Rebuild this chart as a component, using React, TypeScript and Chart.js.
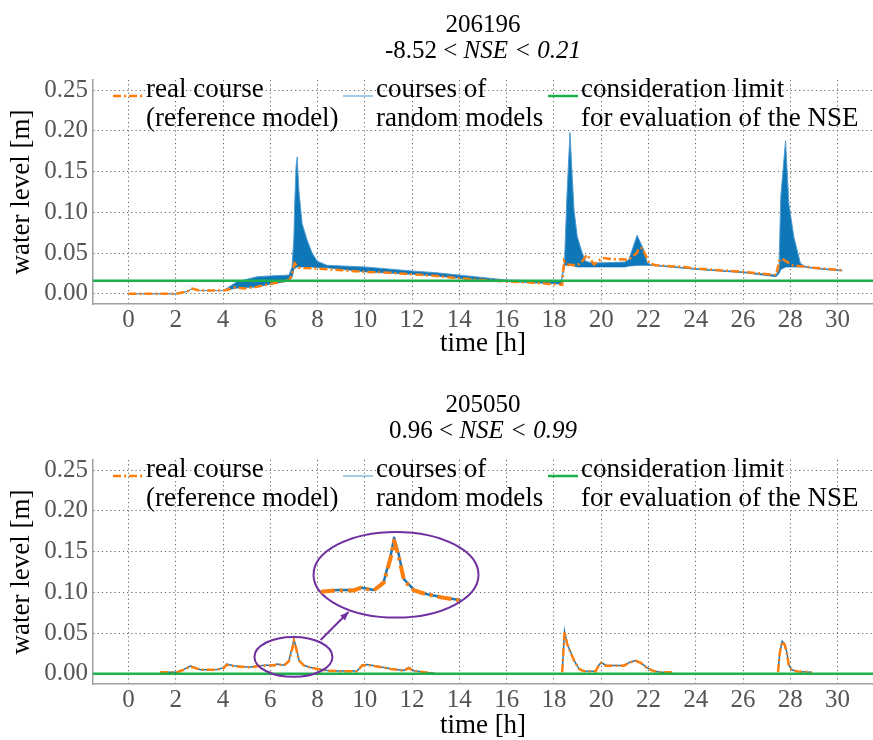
import React, { useEffect, useRef } from 'react';
import { Chart, registerables } from 'chart.js';

Chart.register(...registerables);

const FONT = '"Liberation Serif"';
Chart.defaults.font.family = FONT;

// ---------- shared axis data ----------
const xMin = -1.5;
const xMax = 31.5;
const yMin = -0.0125;
const yMax = 0.2625;
const xTicks = [0, 2, 4, 6, 8, 10, 12, 14, 16, 18, 20, 22, 24, 26, 28, 30];
const yTicks = [0, 0.05, 0.1, 0.15, 0.2, 0.25];
const yTickLabels = ['0.00', '0.05', '0.10', '0.15', '0.20', '0.25'];
const xTitle = 'time [h]';
const yTitle = 'water level [m]';
const legendLabels = [
  ['real course', '(reference model)'],
  ['courses of', 'random models'],
  ['consideration limit', 'for evaluation of the NSE'],
];

// ---------- top chart (206196) ----------
const topId = '206196';
const topNse = ['-8.52 < ', 'NSE < 0.21'];
const topLimit = 0.016;
const topRefH = [0, 2.0, 2.5, 2.7, 3.0, 4.0, 4.2, 4.5, 4.9, 5.4, 6.0, 6.5, 6.8, 6.9, 7.03, 7.2, 8.0, 9.0, 10.0, 11.0, 12.0, 13.0, 14.0, 15.0, 16.0, 17.0, 18.35, 18.43, 18.5, 19.0, 19.2, 19.4, 19.7, 20.05, 20.5, 21.17, 21.5, 21.6, 21.75, 22.03, 22.3, 23.5, 24, 26, 27.4, 27.55, 27.65, 28.1, 29, 30.2];
const topRefV = [0, 0, 0.003, 0.0065, 0.004, 0.004, 0.005, 0.008, 0.0065, 0.0085, 0.012, 0.015, 0.017, 0.022, 0.0375, 0.032, 0.031, 0.029, 0.027, 0.026, 0.024, 0.022, 0.019, 0.017, 0.015, 0.014, 0.011, 0.04, 0.036, 0.035, 0.04, 0.048, 0.036, 0.044, 0.0425, 0.042, 0.05, 0.056, 0.056, 0.0375, 0.035, 0.033, 0.031, 0.027, 0.023, 0.042, 0.043, 0.035, 0.032, 0.029];
const topRandH = [0, 2.0, 2.5, 2.7, 3.0, 4.0, 4.18, 4.6, 5.45, 6.0, 6.79, 6.92, 7.0, 7.03, 7.09, 7.14, 7.21, 7.35, 7.56, 7.77, 7.99, 8.4, 10, 12, 13, 14, 16, 18.3, 18.45, 18.55, 18.68, 18.76, 18.85, 18.99, 19.2, 19.34, 19.6, 20, 21, 21.17, 21.52, 21.8, 21.95, 22.1, 24, 26, 27.4, 27.52, 27.6, 27.8, 27.94, 28.15, 28.43, 28.6, 29, 30.2];
const topRandUpper = [0, 0, 0.003, 0.0065, 0.004, 0.004, 0.007, 0.015, 0.021, 0.022, 0.023, 0.033, 0.07, 0.107, 0.156, 0.168, 0.127, 0.086, 0.066, 0.05, 0.04, 0.035, 0.033, 0.028, 0.026, 0.023, 0.017, 0.015, 0.04, 0.12, 0.198, 0.152, 0.103, 0.07, 0.05, 0.04, 0.038, 0.038, 0.039, 0.042, 0.072, 0.054, 0.038, 0.036, 0.031, 0.027, 0.023, 0.03, 0.12, 0.188, 0.111, 0.07, 0.0375, 0.034, 0.032, 0.029];
const topRandLower = [0, 0, 0.003, 0.0065, 0.004, 0.004, 0.005, 0.007, 0.0085, 0.012, 0.0155, 0.02, 0.03, 0.031, 0.032, 0.033, 0.033, 0.033, 0.033, 0.033, 0.032, 0.032, 0.027, 0.024, 0.022, 0.019, 0.015, 0.012, 0.035, 0.035, 0.035, 0.035, 0.034, 0.033, 0.033, 0.033, 0.033, 0.033, 0.033, 0.034, 0.035, 0.035, 0.035, 0.035, 0.03, 0.026, 0.021, 0.025, 0.03, 0.033, 0.033, 0.033, 0.033, 0.033, 0.031, 0.028];

// ---------- bottom chart (205050) ----------
const botId = '205050';
const botNse = ['0.96 < ', 'NSE < 0.99'];
const botLimit = 0;
const botH = [1.35, 2.06, 2.34, 2.62, 2.83, 3.05, 3.75, 4.03, 4.15, 4.46, 4.81, 5.16, 5.45, 5.8, 6.15, 6.29, 6.57, 6.78, 6.93, 7.0, 7.1, 7.21, 7.42, 7.7, 7.99, 8.41, 8.83, 9.68, 9.89, 10.1, 10.52, 11.09, 11.65, 11.86, 12.07, 12.5, 12.8, 13.0,
  15.5,
  18.35, 18.4, 18.45, 18.56, 18.7, 18.85, 19.06, 19.27, 19.76, 19.9, 20.0, 20.19, 20.54, 20.96, 21.24, 21.46, 21.67, 21.95, 22.23, 22.51, 22.94, 23.0,
  25,
  27.48, 27.56, 27.66, 27.76, 27.85, 27.94, 28.08, 28.3, 28.86, 28.9];
const botRefV = [0.002, 0.002, 0.005, 0.009, 0.007, 0.005, 0.005, 0.007, 0.011, 0.0094, 0.0086, 0.008, 0.0094, 0.0102, 0.0102, 0.0118, 0.0102, 0.015, 0.0306, 0.0407, 0.0306, 0.0163, 0.0102, 0.0077, 0.006, 0.004, 0.0033, 0.0033, 0.0102, 0.011, 0.009, 0.006, 0.004, 0.007, 0.0037, 0.002, 0.001, 0.0005,
  null,
  0.002, 0.0265, 0.0517, 0.0367, 0.0265, 0.0163, 0.006, 0.0033, 0.003, 0.010, 0.0134, 0.010, 0.010, 0.010, 0.0143, 0.0159, 0.0134, 0.007, 0.0033, 0.002, 0.0018, 0.001,
  null,
  0.002, 0.0265, 0.0395, 0.036, 0.0265, 0.010, 0.0045, 0.003, 0.002, 0.001];
const botRandV = [0.002, 0.002, 0.0055, 0.0095, 0.0075, 0.005, 0.0052, 0.0075, 0.012, 0.0098, 0.0088, 0.0085, 0.0096, 0.0105, 0.0104, 0.012, 0.0105, 0.0155, 0.032, 0.0425, 0.032, 0.017, 0.0105, 0.0078, 0.0062, 0.0042, 0.0034, 0.0034, 0.0108, 0.0115, 0.0093, 0.0063, 0.0042, 0.0078, 0.0038, 0.002, 0.001, 0.0005,
  null,
  0.002, 0.027, 0.052, 0.037, 0.027, 0.0165, 0.0062, 0.0034, 0.0031, 0.0105, 0.0138, 0.0105, 0.0102, 0.0102, 0.0146, 0.0162, 0.0136, 0.0072, 0.0034, 0.002, 0.0018, 0.001,
  null,
  0.002, 0.027, 0.040, 0.0365, 0.027, 0.0105, 0.0046, 0.003, 0.002, 0.001];

// zoom annotation of the bottom chart (data units)
const zoomSmall = { cx: 6.98, cy: 0.0208, rx: 1.65, ry: 0.0245 };
const zoomLarge = { cx: 11.32, cy: 0.1216, rx: 3.49, ry: 0.0526 };
const zoomArrow = { x1: 8.13, y1: 0.0416, x2: 9.31, y2: 0.0758 };
const zoomWindow = [5.45, 8.41];
const zoomAnchor = [6.98, 0.041];
const zoomShown = [11.2, 0.164];
const zoomFactor = 2;

// ---------- styles ----------
const ORANGE = '#ff7f0e';
const BLUE_FILL = 'rgba(0,112,180,0.95)';
const BLUE_EDGE = 'rgba(80,155,210,0.95)';
const BLUE_LINE = '#1f77b4';
const BLUE_LEGEND = 'rgba(120,180,220,0.9)';
const GREEN = '#1db04b';
const PURPLE = '#7030a0';
const DASH = [8, 3, 2, 3];

const pts = (hs: number[], vs: (number | null)[]) => hs.map((h, i) => ({ x: h, y: vs[i] }));

type Spec = {
  id: string;
  nse: string[];
  limit: number;
  datasets: any[];
  xTitlePad: number;
  xAxisH: number;
  zoom: boolean;
  refH?: number[];
  refV?: (number | null)[];
  randV?: (number | null)[];
};

function makeConfig(spec: Spec): any {
  const deco = {
    id: 'deco' + spec.id,
    afterDatasetsDraw(chart: any) {
      const { ctx, chartArea, scales } = chart;
      const xs = scales.x;
      const ys = scales.y;
      ctx.save();
      // title
      const cx = (chartArea.left + chartArea.right) / 2;
      ctx.fillStyle = '#000';
      ctx.textBaseline = 'alphabetic';
      ctx.textAlign = 'center';
      ctx.font = `25px ${FONT}`;
      ctx.fillText(spec.id, cx, 32);
      const f1 = `25px ${FONT}`;
      const f2 = `italic 25px ${FONT}`;
      ctx.font = f1;
      const w1 = ctx.measureText(spec.nse[0]).width;
      ctx.font = f2;
      const w2 = ctx.measureText(spec.nse[1]).width;
      ctx.textAlign = 'left';
      const sx = cx - (w1 + w2) / 2;
      ctx.font = f1;
      ctx.fillText(spec.nse[0], sx, 57.5);
      ctx.font = f2;
      ctx.fillText(spec.nse[1], sx + w1, 57.5);

      // zoom annotation
      if (spec.zoom && spec.refH) {
        const px = (h: number) => xs.getPixelForValue(h);
        const py = (v: number) => ys.getPixelForValue(v);
        const drawEllipse = (e: any) => {
          const cxp = px(e.cx), cyp = py(e.cy);
          const rxp = Math.abs(px(e.cx + e.rx) - cxp);
          const ryp = Math.abs(py(e.cy + e.ry) - cyp);
          ctx.beginPath();
          ctx.ellipse(cxp, cyp, rxp, ryp, 0, 0, Math.PI * 2);
          ctx.strokeStyle = PURPLE;
          ctx.lineWidth = 2;
          ctx.setLineDash([]);
          ctx.stroke();
        };
        drawEllipse(zoomSmall);
        drawEllipse(zoomLarge);
        // arrow
        const ax1 = px(zoomArrow.x1), ay1 = py(zoomArrow.y1);
        const ax2 = px(zoomArrow.x2), ay2 = py(zoomArrow.y2);
        ctx.beginPath();
        ctx.moveTo(ax1, ay1);
        ctx.lineTo(ax2, ay2);
        ctx.strokeStyle = PURPLE;
        ctx.lineWidth = 2;
        ctx.stroke();
        const ang = Math.atan2(ay2 - ay1, ax2 - ax1);
        ctx.beginPath();
        ctx.moveTo(ax2, ay2);
        ctx.lineTo(ax2 - 9 * Math.cos(ang - 0.4), ay2 - 9 * Math.sin(ang - 0.4));
        ctx.lineTo(ax2 - 9 * Math.cos(ang + 0.4), ay2 - 9 * Math.sin(ang + 0.4));
        ctx.closePath();
        ctx.fillStyle = PURPLE;
        ctx.fill();
        // magnified inset
        const drawInset = (vs: (number | null)[], color: string, width: number, dash: number[]) => {
          ctx.beginPath();
          let started = false;
          spec.refH!.forEach((h, i) => {
            const v = vs[i];
            if (v === null || h < zoomWindow[0] || h > zoomWindow[1]) return;
            const dh = zoomShown[0] + zoomFactor * (h - zoomAnchor[0]);
            const dv = zoomShown[1] + zoomFactor * (v - zoomAnchor[1]);
            const X = px(dh), Y = py(dv);
            if (!started) { ctx.moveTo(X, Y); started = true; } else ctx.lineTo(X, Y);
          });
          ctx.strokeStyle = color;
          ctx.lineWidth = width;
          ctx.setLineDash(dash);
          ctx.lineJoin = 'round';
          ctx.stroke();
        };
        drawInset(spec.randV!, BLUE_LINE, 2.5, []);
        drawInset(spec.refV!, ORANGE, 4, [14, 5, 3, 5]);
      }

      // legend
      const lx = [20, 250, 455];
      const styles = [
        { c: ORANGE, w: 2.5, d: DASH },
        { c: BLUE_LEGEND, w: 1.5, d: [] as number[] },
        { c: GREEN, w: 2.5, d: [] as number[] },
      ];
      legendLabels.forEach((lines, i) => {
        const x0 = chartArea.left + lx[i];
        const y0 = chartArea.top + 16;
        ctx.beginPath();
        ctx.moveTo(x0, y0);
        ctx.lineTo(x0 + 30, y0);
        ctx.strokeStyle = styles[i].c;
        ctx.lineWidth = styles[i].w;
        ctx.setLineDash(styles[i].d);
        ctx.stroke();
        ctx.setLineDash([]);
        ctx.fillStyle = '#000';
        ctx.font = `27px ${FONT}`;
        ctx.textAlign = 'left';
        ctx.textBaseline = 'alphabetic';
        lines.forEach((t, j) => ctx.fillText(t, x0 + 33, chartArea.top + 17 + j * 28.5));
      });
      ctx.restore();
    },
  };

  return {
    type: 'line',
    data: { datasets: spec.datasets },
    options: {
      responsive: false,
      maintainAspectRatio: false,
      animation: false,
      layout: { padding: { top: 80, left: 0, right: 0, bottom: 0 } },
      plugins: { legend: { display: false }, tooltip: { enabled: false }, title: { display: false } },
      elements: { point: { radius: 0, hoverRadius: 0 }, line: { tension: 0 } },
      scales: {
        x: {
          type: 'linear',
          min: xMin,
          max: xMax,
          afterBuildTicks: (s: any) => { s.ticks = xTicks.map((v) => ({ value: v })); },
          afterFit: (s: any) => { s.height = spec.xAxisH; },
          grid: { color: '#666', lineWidth: 1, drawTicks: false },
          border: { display: true, color: '#a0a0a0', width: 1.5, dash: [1.2, 3] },
          ticks: { color: '#555', font: { family: FONT, size: 25 }, padding: 1, maxRotation: 0, autoSkip: false, callback: (v: any) => String(v) },
          title: { display: true, text: xTitle, color: '#000', font: { family: FONT, size: 27, lineHeight: 1 }, padding: { top: 0, bottom: spec.xTitlePad } },
        },
        y: {
          type: 'linear',
          min: yMin,
          max: yMax,
          afterBuildTicks: (s: any) => { s.ticks = yTicks.map((v) => ({ value: v })); },
          afterFit: (s: any) => { s.width = 93; },
          grid: { color: '#666', lineWidth: 1, drawTicks: false },
          border: { display: true, color: '#a0a0a0', width: 1.5, dash: [1.2, 3] },
          ticks: { color: '#555', font: { family: FONT, size: 25 }, padding: 5, autoSkip: false, callback: (_v: any, i: number) => yTickLabels[i] },
          title: { display: true, text: yTitle, color: '#000', font: { family: FONT, size: 27 }, padding: { top: 6, bottom: 0 } },
        },
      },
    },
    plugins: [deco],
  };
}

function limitSet(v: number) {
  return {
    data: pts([xMin, xMax], [v, v]),
    borderColor: GREEN,
    borderWidth: 2.5,
    fill: false,
  };
}

function topConfig() {
  return makeConfig({
    id: topId,
    nse: topNse,
    limit: topLimit,
    xTitlePad: 22.5,
    xAxisH: 76,
    zoom: false,
    datasets: [
      limitSet(topLimit),
      { data: pts(topRefH, topRefV), borderColor: ORANGE, borderWidth: 2.5, borderDash: DASH, fill: false },
      { data: pts(topRandH, topRandUpper), borderColor: BLUE_EDGE, borderWidth: 1, backgroundColor: BLUE_FILL, fill: '+1' },
      { data: pts(topRandH, topRandLower), borderColor: BLUE_EDGE, borderWidth: 1, fill: false },
    ],
  });
}

function bottomConfig() {
  return makeConfig({
    id: botId,
    nse: botNse,
    limit: botLimit,
    xTitlePad: 0.5,
    xAxisH: 56,
    zoom: true,
    refH: botH,
    refV: botRefV,
    randV: botRandV,
    datasets: [
      limitSet(botLimit),
      { data: pts(botH, botRefV), borderColor: ORANGE, borderWidth: 2.5, borderDash: DASH, fill: false, spanGaps: false },
      { data: pts(botH, botRandV), borderColor: BLUE_LINE, borderWidth: 1.5, fill: false, spanGaps: false },
    ],
  });
}

function ChartCanvas({ make, height }: { make: () => any; height: number }) {
  const ref = useRef<HTMLCanvasElement | null>(null);
  useEffect(() => {
    const chart = new Chart(ref.current as HTMLCanvasElement, make());
    return () => chart.destroy();
  }, []);
  return <canvas ref={ref} width={873} height={height} style={{ display: 'block', width: 873, height }} />;
}

export default function App() {
  useEffect(() => {
    document.body.style.margin = '0';
    document.body.style.background = '#fff';
  }, []);
  return (
    <div style={{ width: 873, background: '#fff' }}>
      <ChartCanvas make={topConfig} height={380} />
      <ChartCanvas make={bottomConfig} height={360} />
    </div>
  );
}
